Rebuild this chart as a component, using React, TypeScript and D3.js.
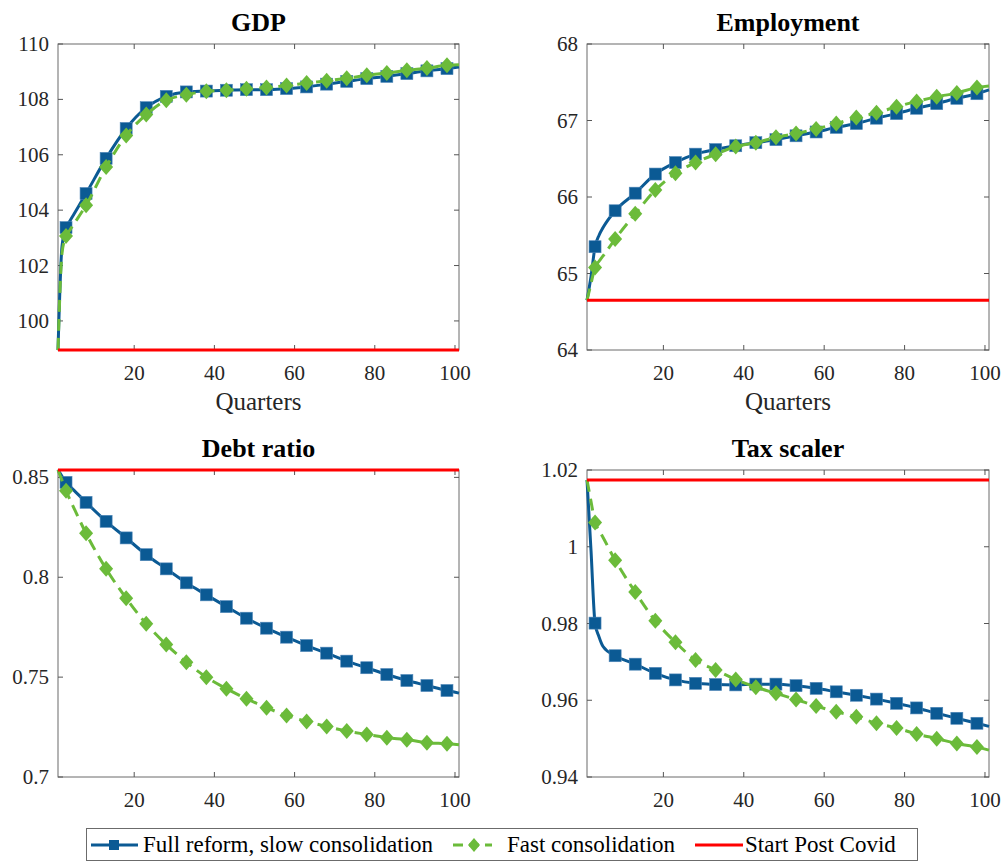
import React, { useEffect, useRef } from 'react';
import * as d3 from 'd3';

const quarters = [1, 2, 3, 4, 5, 8, 13, 18, 23, 28, 33, 38, 43, 48, 53, 58, 63, 68, 73, 78, 83, 88, 93, 98, 101];
const markerQuarters = [3, 8, 13, 18, 23, 28, 33, 38, 43, 48, 53, 58, 63, 68, 73, 78, 83, 88, 93, 98];

const gdpSlow = [98.95, 102.7, 103.37, 103.62, 103.86, 104.6, 105.87, 106.95, 107.7, 108.11, 108.27, 108.3, 108.33, 108.35, 108.35, 108.39, 108.45, 108.55, 108.65, 108.75, 108.83, 108.93, 109.03, 109.11, 109.17];
const gdpFast = [98.95, 102.44, 103.07, 103.29, 103.51, 104.18, 105.56, 106.7, 107.45, 107.97, 108.17, 108.29, 108.33, 108.38, 108.43, 108.5, 108.59, 108.67, 108.76, 108.87, 108.95, 109.05, 109.13, 109.23, 109.25];

const empSlow = [64.65, 64.96, 65.35, 65.5, 65.6, 65.82, 66.05, 66.3, 66.45, 66.56, 66.62, 66.67, 66.71, 66.75, 66.8, 66.85, 66.91, 66.96, 67.03, 67.09, 67.16, 67.22, 67.29, 67.35, 67.4];
const empFast = [64.65, 64.87, 65.08, 65.16, 65.23, 65.45, 65.78, 66.09, 66.31, 66.45, 66.56, 66.66, 66.71, 66.78, 66.83, 66.89, 66.96, 67.04, 67.1, 67.18, 67.25, 67.31, 67.36, 67.43, 67.45];

const debtSlow = [0.8537, 0.8506, 0.8475, 0.8455, 0.8435, 0.8375, 0.828, 0.8197, 0.8113, 0.8042, 0.7972, 0.7912, 0.7853, 0.7795, 0.7745, 0.77, 0.7658, 0.762, 0.758, 0.7547, 0.7513, 0.7483, 0.7458, 0.7433, 0.742];
const debtFast = [0.8537, 0.8485, 0.8433, 0.8388, 0.8345, 0.822, 0.8042, 0.7895, 0.7767, 0.7663, 0.7575, 0.75, 0.7442, 0.7392, 0.7347, 0.7308, 0.7278, 0.7253, 0.723, 0.7213, 0.7197, 0.7187, 0.7172, 0.7167, 0.7162];

const taxSlow = [1.0174, 0.999, 0.9801, 0.9765, 0.974, 0.9716, 0.9694, 0.967, 0.9653, 0.9644, 0.9641, 0.964, 0.9642, 0.9642, 0.9638, 0.9631, 0.9622, 0.9613, 0.9603, 0.9592, 0.958, 0.9566, 0.9553, 0.954, 0.9532];
const taxFast = [1.0174, 1.0118, 1.0063, 1.0043, 1.0024, 0.9965, 0.9882, 0.9807, 0.9751, 0.9705, 0.9679, 0.9654, 0.9634, 0.9618, 0.9602, 0.9585, 0.957, 0.9557, 0.954, 0.9528, 0.9512, 0.95, 0.9487, 0.9478, 0.947];

const panelTitles = ['GDP', 'Employment', 'Debt ratio', 'Tax scaler'];
const startValues = [98.95, 64.65, 0.8537, 1.0174];
const yLimits = [[98.95, 110], [64, 68], [0.7, 0.8537], [0.94, 1.02]];
const yTicks = [
  [100, 102, 104, 106, 108, 110],
  [64, 65, 66, 67, 68],
  [0.7, 0.75, 0.8, 0.85],
  [0.94, 0.96, 0.98, 1, 1.02],
];
const xTicks = [20, 40, 60, 80, 100];
const legendLabels = ['Full reform, slow consolidation', 'Fast consolidation', 'Start Post Covid'];

const BLUE = '#0b5a94';
const GREEN = '#6bbb3a';
const RED = '#ff0000';
const FONT = 'Liberation Serif, DejaVu Serif, serif';

const App: React.FC = () => {
  const ref = useRef<SVGSVGElement | null>(null);

  useEffect(() => {
    if (!ref.current) return;
    const svg = d3.select(ref.current);
    svg.selectAll('*').remove();

    const slow = [gdpSlow, empSlow, debtSlow, taxSlow];
    const fast = [gdpFast, empFast, debtFast, taxFast];
    const boxes = [
      { x0: 58, x1: 459, y0: 44, y1: 350 },
      { x0: 587, x1: 989, y0: 44, y1: 350 },
      { x0: 58, x1: 459, y0: 470, y1: 777 },
      { x0: 587, x1: 989, y0: 470, y1: 777 },
    ];

    boxes.forEach((b, i) => {
      const x = d3.scaleLinear().domain([1, 101]).range([b.x0, b.x1]);
      const y = d3.scaleLinear().domain(yLimits[i]).range([b.y1, b.y0]);
      const g = svg.append('g');

      // axes box
      g.append('rect')
        .attr('x', b.x0).attr('y', b.y0)
        .attr('width', b.x1 - b.x0).attr('height', b.y1 - b.y0)
        .attr('fill', 'none').attr('stroke', '#6b6b6b').attr('stroke-width', 1);

      const tl = 5;
      xTicks.forEach((t) => {
        g.append('line').attr('x1', x(t)).attr('x2', x(t)).attr('y1', b.y1).attr('y2', b.y1 - tl).attr('stroke', '#555');
        g.append('line').attr('x1', x(t)).attr('x2', x(t)).attr('y1', b.y0).attr('y2', b.y0 + tl).attr('stroke', '#555');
        g.append('text')
          .attr('x', x(t)).attr('y', b.y1 + 30)
          .attr('text-anchor', 'middle')
          .attr('font-family', FONT).attr('font-size', 21).attr('fill', '#262626')
          .text(t);
      });
      yTicks[i].forEach((t) => {
        g.append('line').attr('x1', b.x0).attr('x2', b.x0 + tl).attr('y1', y(t)).attr('y2', y(t)).attr('stroke', '#555');
        g.append('line').attr('x1', b.x1).attr('x2', b.x1 - tl).attr('y1', y(t)).attr('y2', y(t)).attr('stroke', '#555');
        g.append('text')
          .attr('x', b.x0 - 9).attr('y', y(t) + 7)
          .attr('text-anchor', 'end')
          .attr('font-family', FONT).attr('font-size', 21).attr('fill', '#262626')
          .text(String(t));
      });

      // title
      g.append('text')
        .attr('x', (b.x0 + b.x1) / 2).attr('y', b.y0 - 13)
        .attr('text-anchor', 'middle')
        .attr('font-family', FONT).attr('font-size', 26).attr('font-weight', 'bold')
        .attr('fill', '#000')
        .text(panelTitles[i]);

      if (i < 2) {
        g.append('text')
          .attr('x', (b.x0 + b.x1) / 2).attr('y', b.y1 + 60)
          .attr('text-anchor', 'middle')
          .attr('font-family', FONT).attr('font-size', 25).attr('fill', '#262626')
          .text('Quarters');
      }

      const line = d3.line<number>()
        .x((_, k) => x(quarters[k]))
        .y((d) => y(d))
        .curve(d3.curveMonotoneX);

      // slow consolidation
      g.append('path').attr('d', line(slow[i])).attr('fill', 'none')
        .attr('stroke', BLUE).attr('stroke-width', 3);
      g.selectAll('.sq')
        .data(markerQuarters)
        .enter()
        .append('rect')
        .attr('x', (q) => x(q) - 6)
        .attr('y', (q) => y(slow[i][quarters.indexOf(q)]) - 6)
        .attr('width', 12).attr('height', 12)
        .attr('fill', BLUE).attr('stroke', '#4f86b8').attr('stroke-width', 0.6);

      // fast consolidation
      g.append('path').attr('d', line(fast[i])).attr('fill', 'none')
        .attr('stroke', GREEN).attr('stroke-width', 3).attr('stroke-dasharray', '12,7');
      g.selectAll('.dm')
        .data(markerQuarters)
        .enter()
        .append('path')
        .attr('d', (q) => {
          const cx = x(q);
          const cy = y(fast[i][quarters.indexOf(q)]);
          return `M${cx},${cy - 8}L${cx + 7},${cy}L${cx},${cy + 8}L${cx - 7},${cy}Z`;
        })
        .attr('fill', GREEN);

      // start post covid level
      g.append('line')
        .attr('x1', x(1)).attr('x2', x(101))
        .attr('y1', y(startValues[i])).attr('y2', y(startValues[i]))
        .attr('stroke', RED).attr('stroke-width', 3);
    });

    // legend
    const lg = svg.append('g');
    lg.append('rect')
      .attr('x', 86.5).attr('y', 828.5).attr('width', 831).attr('height', 32)
      .attr('fill', '#fff').attr('stroke', '#6b6b6b').attr('stroke-width', 1);
    const ly = 845;
    lg.append('line').attr('x1', 91).attr('x2', 138).attr('y1', ly).attr('y2', ly).attr('stroke', BLUE).attr('stroke-width', 3);
    lg.append('rect').attr('x', 109).attr('y', ly - 5).attr('width', 10).attr('height', 10).attr('fill', BLUE);
    lg.append('line').attr('x1', 453).attr('x2', 492).attr('y1', ly).attr('y2', ly).attr('stroke', GREEN).attr('stroke-width', 3).attr('stroke-dasharray', '10,6');
    lg.append('path').attr('d', `M474,${ly - 7}L480,${ly}L474,${ly + 7}L468,${ly}Z`).attr('fill', GREEN);
    lg.append('line').attr('x1', 695).attr('x2', 743).attr('y1', ly).attr('y2', ly).attr('stroke', RED).attr('stroke-width', 3);
    const lx = [143, 507, 745];
    legendLabels.forEach((t, k) => {
      lg.append('text')
        .attr('x', lx[k]).attr('y', 852)
        .attr('font-family', FONT).attr('font-size', 23).attr('fill', '#000')
        .text(t);
    });
  }, []);

  return (
    <svg
      ref={ref}
      width={1004}
      height={862}
      style={{ position: 'absolute', left: 0, top: 0, background: '#fff' }}
    />
  );
};

export default App;
